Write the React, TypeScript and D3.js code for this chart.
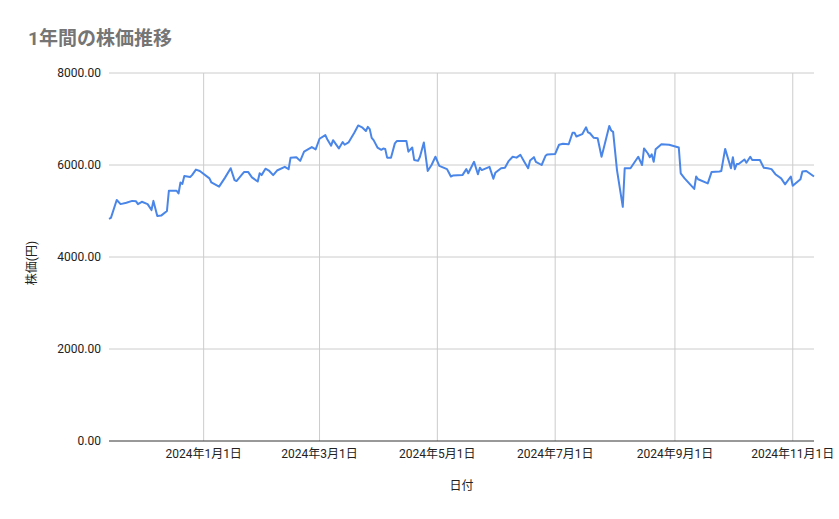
import * as d3 from "d3";

const TITLE = "1年間の株価推移";
const X_TITLE = "日付";
const Y_TITLE = "株価(円)";

// date of each sample (YYYY-MM-DD)
const dates = [
  "2023-11-13", "2023-11-14", "2023-11-17", "2023-11-19", "2023-11-22", "2023-11-25",
  "2023-11-27", "2023-11-28", "2023-11-30", "2023-12-03", "2023-12-05", "2023-12-06",
  "2023-12-08", "2023-12-10", "2023-12-13", "2023-12-14", "2023-12-18", "2023-12-19",
  "2023-12-20", "2023-12-21", "2023-12-22", "2023-12-25", "2023-12-26", "2023-12-28",
  "2023-12-30", "2024-01-04", "2024-01-05", "2024-01-09", "2024-01-12", "2024-01-15",
  "2024-01-17", "2024-01-18", "2024-01-21", "2024-01-22", "2024-01-24", "2024-01-26",
  "2024-01-29", "2024-01-30", "2024-01-31", "2024-02-02", "2024-02-04", "2024-02-06",
  "2024-02-08", "2024-02-12", "2024-02-14", "2024-02-15", "2024-02-18", "2024-02-20",
  "2024-02-22", "2024-02-26", "2024-02-28", "2024-03-01", "2024-03-04", "2024-03-05",
  "2024-03-07", "2024-03-08", "2024-03-11", "2024-03-13", "2024-03-14", "2024-03-16",
  "2024-03-19", "2024-03-21", "2024-03-23", "2024-03-25", "2024-03-26", "2024-03-27",
  "2024-03-28", "2024-03-29", "2024-03-31", "2024-04-02", "2024-04-03", "2024-04-04",
  "2024-04-05", "2024-04-07", "2024-04-09", "2024-04-10", "2024-04-15", "2024-04-16",
  "2024-04-18", "2024-04-19", "2024-04-21", "2024-04-22", "2024-04-24", "2024-04-26",
  "2024-04-28", "2024-04-30", "2024-05-02", "2024-05-06", "2024-05-07", "2024-05-08",
  "2024-05-09", "2024-05-14", "2024-05-16", "2024-05-17", "2024-05-20", "2024-05-22",
  "2024-05-23", "2024-05-24", "2024-05-28", "2024-05-30", "2024-05-31", "2024-06-03",
  "2024-06-05", "2024-06-07", "2024-06-09", "2024-06-11", "2024-06-13", "2024-06-15",
  "2024-06-17", "2024-06-18", "2024-06-20", "2024-06-21", "2024-06-24", "2024-06-26",
  "2024-06-27", "2024-07-01", "2024-07-03", "2024-07-05", "2024-07-08", "2024-07-10",
  "2024-07-11", "2024-07-12", "2024-07-15", "2024-07-17", "2024-07-18", "2024-07-19",
  "2024-07-21", "2024-07-23", "2024-07-25", "2024-07-26", "2024-07-29", "2024-07-30",
  "2024-07-31", "2024-08-02", "2024-08-05", "2024-08-06", "2024-08-09", "2024-08-13",
  "2024-08-15", "2024-08-16", "2024-08-18", "2024-08-19", "2024-08-20", "2024-08-21",
  "2024-08-22", "2024-08-25", "2024-08-29", "2024-09-03", "2024-09-04", "2024-09-06",
  "2024-09-11", "2024-09-12", "2024-09-13", "2024-09-18", "2024-09-20", "2024-09-24",
  "2024-09-25", "2024-09-27", "2024-09-30", "2024-10-01", "2024-10-02", "2024-10-03",
  "2024-10-04", "2024-10-07", "2024-10-08", "2024-10-10", "2024-10-11", "2024-10-15",
  "2024-10-17", "2024-10-19", "2024-10-21", "2024-10-23", "2024-10-26", "2024-10-28",
  "2024-10-31", "2024-11-01", "2024-11-05", "2024-11-06", "2024-11-08", "2024-11-12",
];

// closing price (yen), same order as dates
const prices = [
  4830, 4850, 5240, 5150, 5180, 5220,
  5210, 5150, 5200, 5150, 5020, 5220,
  4890, 4900, 5000, 5440, 5440, 5380,
  5620, 5590, 5760, 5740, 5780, 5900,
  5870, 5710, 5620, 5530, 5720, 5930,
  5670, 5650, 5800, 5850, 5850, 5730,
  5640, 5820, 5780, 5920, 5870, 5780,
  5880, 5960, 5910, 6160, 6170, 6090,
  6290, 6390, 6340, 6570, 6650, 6560,
  6420, 6540, 6360, 6500, 6440, 6490,
  6700, 6860, 6820, 6740, 6830, 6780,
  6590, 6540, 6380, 6330, 6360, 6350,
  6160, 6160, 6470, 6520, 6520, 6290,
  6380, 6110, 6090, 6180, 6490, 5870,
  6000, 6180, 5980, 5910, 5830, 5750,
  5770, 5780, 5910, 5820, 6070, 5800,
  5940, 5890, 5960, 5700, 5830, 5930,
  5940, 6090, 6180, 6160, 6220, 6070,
  5930, 6100, 6170, 6070, 6000, 6200,
  6230, 6240, 6440, 6460, 6450, 6700,
  6700, 6620, 6670, 6820, 6710, 6690,
  6590, 6580, 6180, 6340, 6850, 6750,
  6720, 5890, 5090, 5930, 5930, 6180,
  6000, 6360, 6250, 6170, 6230, 6070,
  6340, 6450, 6440, 6380, 5820, 5710,
  5480, 5750, 5690, 5600, 5850, 5860,
  5870, 6350, 5930, 6170, 5910, 6020,
  6020, 6120, 6050, 6180, 6110, 6110,
  5940, 5930, 5910, 5800, 5710, 5580,
  5750, 5550, 5690, 5860, 5870, 5750,
];

const yTickValues = [0, 2000, 4000, 6000, 8000];
const xTickDates = ["2024-01-01", "2024-03-01", "2024-05-01", "2024-07-01", "2024-09-01", "2024-11-01"];

const width = 839;
const height = 519;
const plot = { left: 109, right: 814, top: 73, bottom: 441 };
const font = "Roboto, 'Noto Sans CJK JP', sans-serif";

export default function App() {
  const parse = d3.timeParse("%Y-%m-%d");
  const points = dates.map((d, i) => ({ date: parse(d) as Date, value: prices[i] }));

  const xScale = d3
    .scaleTime()
    .domain(d3.extent(points, (d) => d.date) as [Date, Date])
    .range([plot.left, plot.right]);

  const yScale = d3.scaleLinear().domain([0, 8000]).range([plot.bottom, plot.top]);

  const line = d3
    .line<{ date: Date; value: number }>()
    .x((d) => xScale(d.date))
    .y((d) => yScale(d.value));

  const fmt = d3.format(".2f");
  const xTicks = xTickDates.map((s) => {
    const d = parse(s) as Date;
    return { label: `${d.getFullYear()}年${d.getMonth() + 1}月${d.getDate()}日`, offset: xScale(d) };
  });

  return (
    <>
      <style>{"body{margin:0}"}</style>
      <svg width={width} height={height} style={{ display: "block", fontFamily: font }}>
        <rect width={width} height={height} fill="#ffffff" />

        <text x={28} y={45} fontSize={19} fontWeight="bold" fill="#757575">
          {TITLE}
        </text>

        {/* horizontal grid */}
        {yTickValues.map((v) => (
          <g key={v}>
            {v !== 0 && (
              <line x1={plot.left} x2={plot.right} y1={yScale(v)} y2={yScale(v)} stroke="#cccccc" strokeWidth={1} />
            )}
            <text x={101} y={yScale(v)} dy="0.35em" textAnchor="end" fontSize={12} fill="#222222">
              {fmt(v)}
            </text>
          </g>
        ))}

        {/* vertical grid */}
        {xTicks.map((t) => (
          <g key={t.label}>
            <line x1={t.offset} x2={t.offset} y1={plot.top} y2={plot.bottom} stroke="#cccccc" strokeWidth={1} />
            <text x={t.offset} y={458} textAnchor="middle" fontSize={12} fill="#222222">
              {t.label}
            </text>
          </g>
        ))}

        {/* baseline */}
        <line x1={plot.left} x2={plot.right} y1={yScale(0)} y2={yScale(0)} stroke="#333333" strokeWidth={1} />

        <path d={line(points) ?? ""} fill="none" stroke="#4a86e8" strokeWidth={2} strokeLinejoin="round" />

        <text x={(plot.left + plot.right) / 2} y={490} textAnchor="middle" fontSize={12} fill="#222222">
          {X_TITLE}
        </text>
        <text
          x={0}
          y={0}
          transform={`translate(36, 263) rotate(-90)`}
          textAnchor="middle"
          fontSize={12}
          fill="#222222"
        >
          {Y_TITLE}
        </text>
      </svg>
    </>
  );
}
